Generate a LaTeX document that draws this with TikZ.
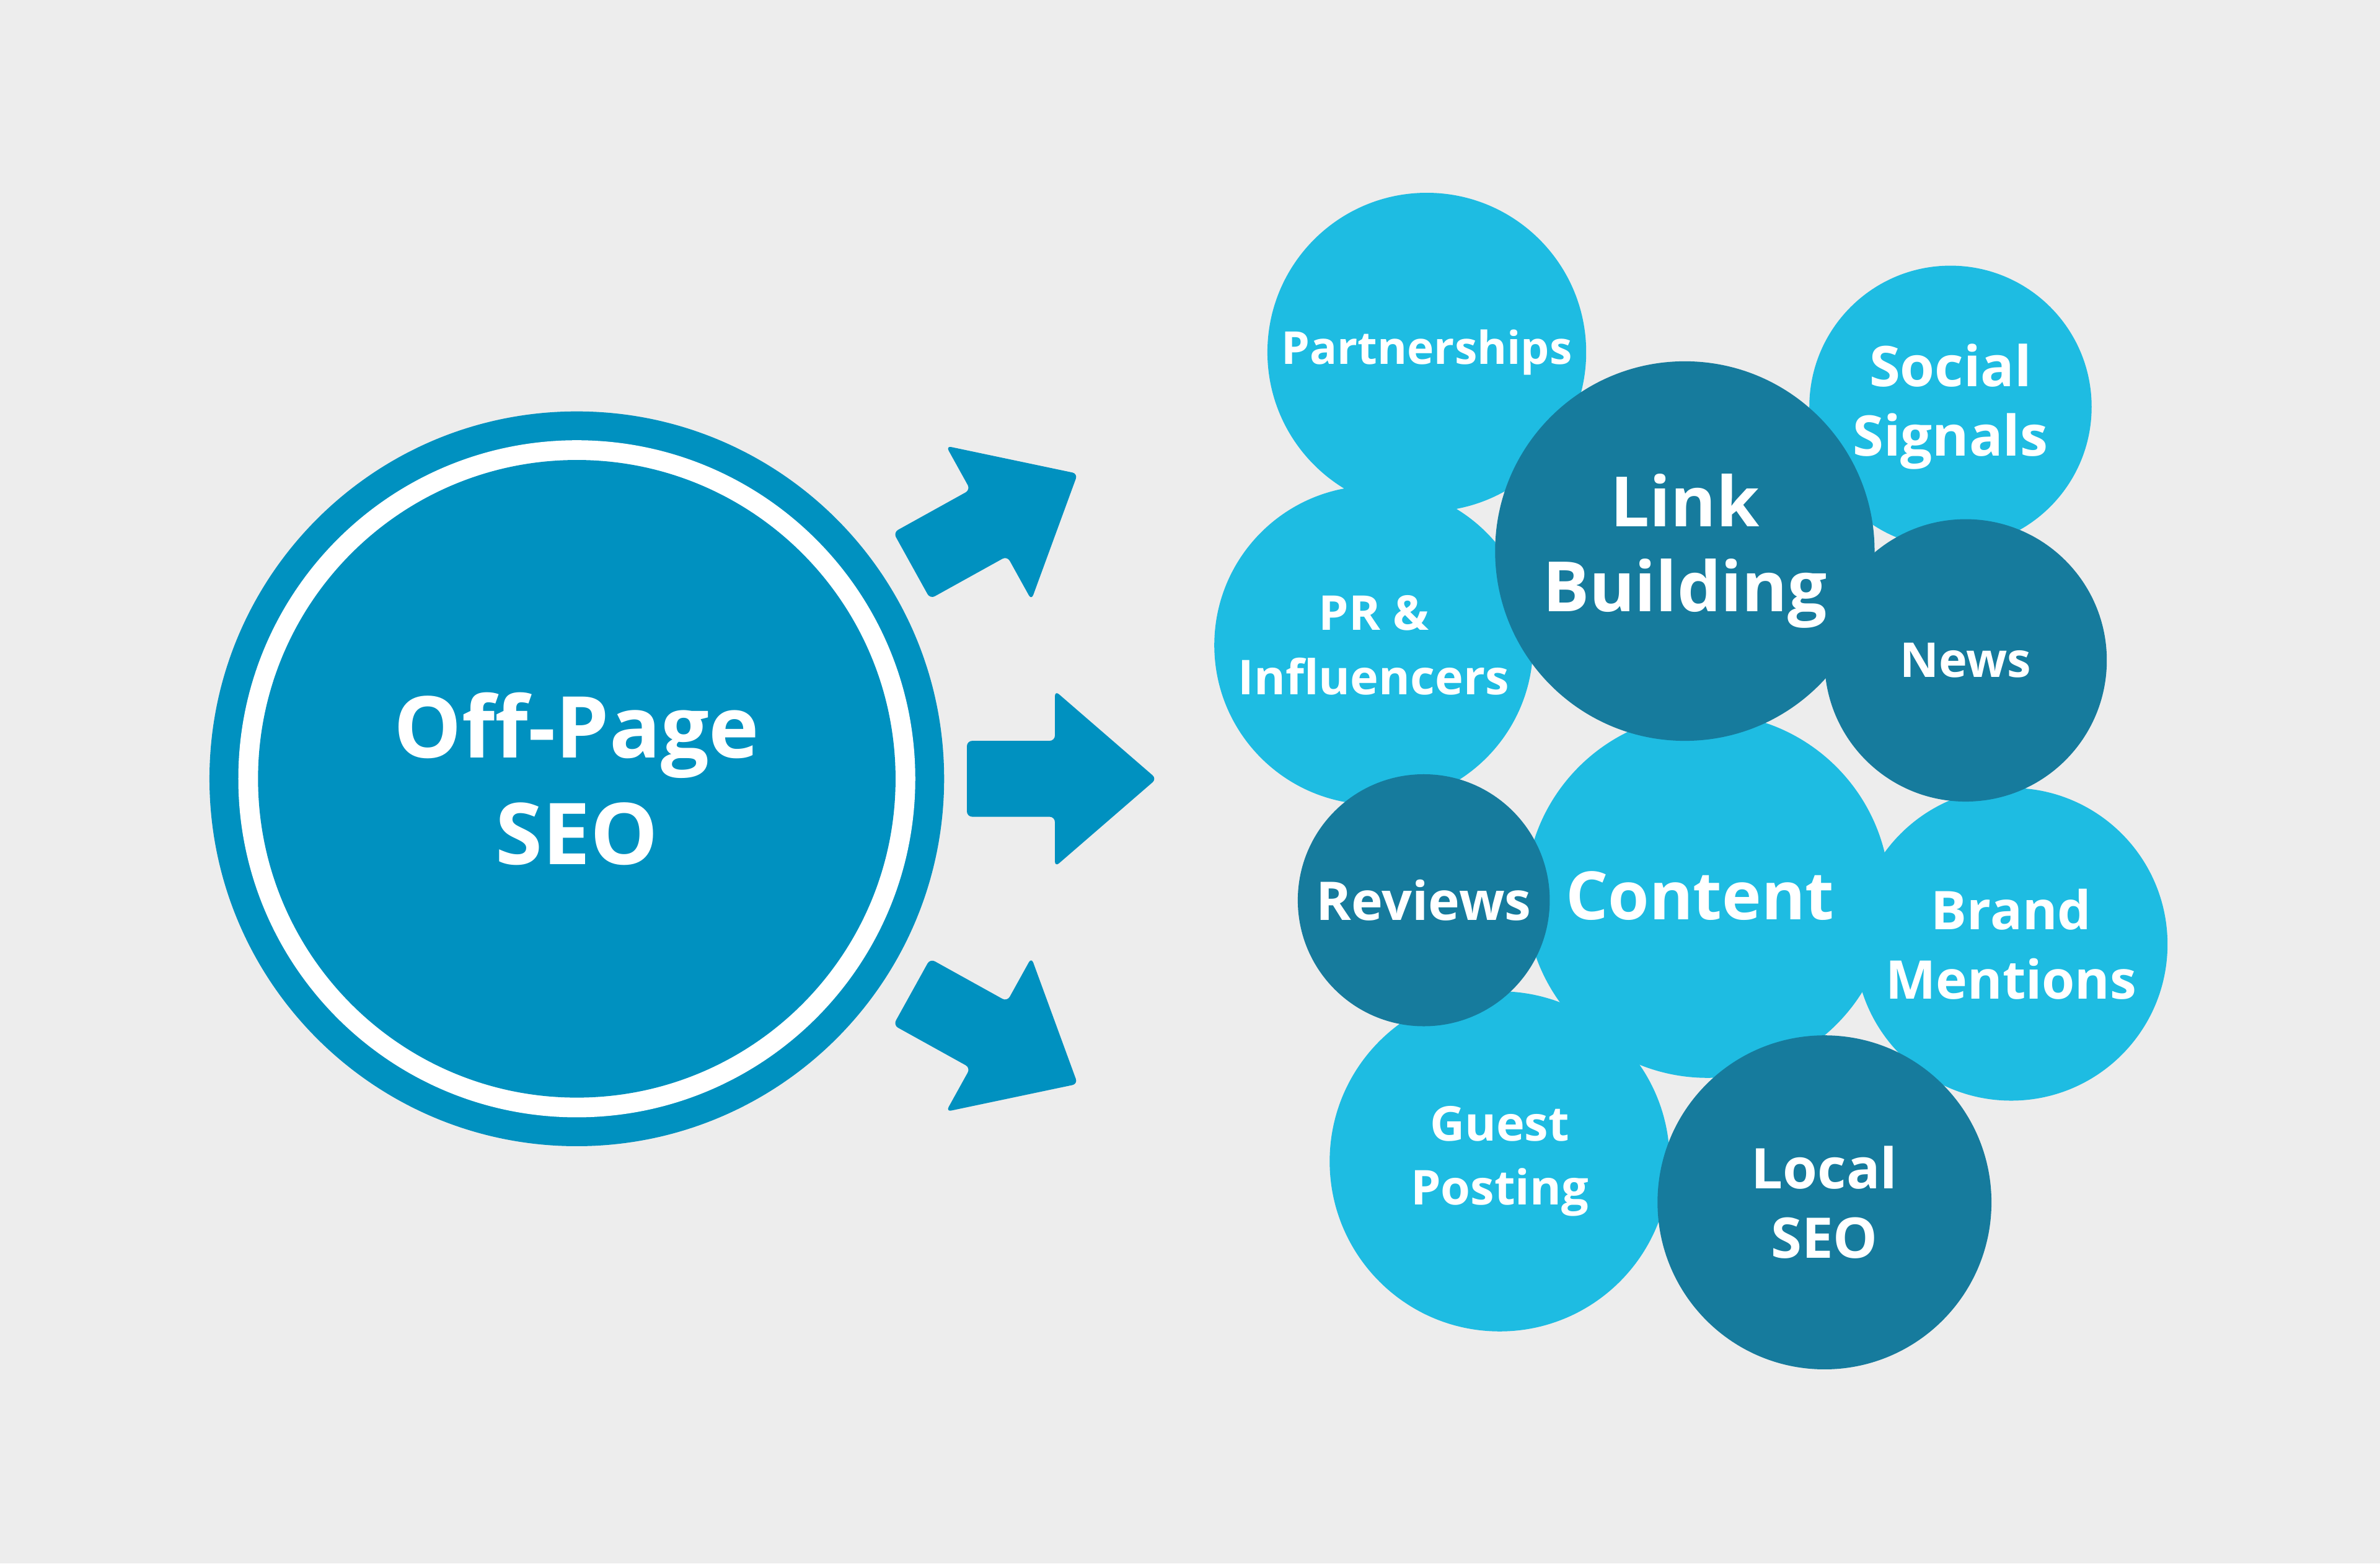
\documentclass[tikz,border=0pt]{standalone}
\usepackage{fontspec}
\setmainfont{Open Sans}
\definecolor{bgGray}{HTML}{EDEDED}
\definecolor{mainBlue}{HTML}{0091C0}
\definecolor{lightBlue}{HTML}{1EBCE2}
\definecolor{darkBlue}{HTML}{167B9D}
\tikzset{
  bubble/.style={circle, inner sep=0pt, align=center, text=white, font=\bfseries},
  light/.style={bubble, fill=lightBlue},
  dark/.style={bubble, fill=darkBlue},
}
\newcommand{\blockarrow}{%
  (-1.25,0.25) -- (-0.67,0.25) -- (-0.67,0.58) -- (0,0) -- (-0.67,-0.58)
  -- (-0.67,-0.25) -- (-1.25,-0.25) -- cycle}
\begin{document}
\begin{tikzpicture}

    \fill[bgGray] (0,0) rectangle (15.68,10.30);
    \useasboundingbox (0,0) rectangle (15.68,10.30);

    % main ring
    \fill[mainBlue] (3.80,5.17) circle (2.42);
    \fill[white] (3.80,5.17) circle (2.23);
    \node[bubble, fill=mainBlue, minimum size=4.20cm,
      font=\bfseries\fontsize{16}{20}\selectfont] (seo) at (3.80,5.17) {Off-Page\\SEO};

    % arrows
    \fill[mainBlue, rounded corners=1pt] [shift={(7.10,7.18)}, rotate=29] \blockarrow;
    \fill[mainBlue, rounded corners=1pt] [shift={(7.62,5.17)}] \blockarrow;
    \fill[mainBlue, rounded corners=1pt] [shift={(7.10,3.16)}, rotate=-29] \blockarrow;

    % light bubbles
    \node[light, minimum size=2.10cm, font=\bfseries\fontsize{8.5}{10}\selectfont]
      (partner) at (9.40,7.98) {Partnerships};
    \node[light, minimum size=1.86cm, font=\bfseries\fontsize{10.5}{13}\selectfont]
      (social) at (12.85,7.62) {Social\\Signals};
    \node[light, minimum size=2.10cm, font=\bfseries\fontsize{9}{12}\selectfont]
      (pr) at (9.05,6.05) {PR \&\\Influencers};
    \node[light, minimum size=2.40cm, font=\bfseries\fontsize{12.5}{15}\selectfont]
      (content) at (11.25,4.40) {\hspace*{-0.1cm}Content};
    \node[light, minimum size=2.06cm, font=\bfseries\fontsize{10}{13}\selectfont]
      (brand) at (13.25,4.08) {Brand\\Mentions};
    \node[light, minimum size=2.24cm, font=\bfseries\fontsize{9}{12}\selectfont]
      (guest) at (9.88,2.65) {Guest\\Posting};

    % dark bubbles
    \node[dark, minimum size=2.50cm, font=\bfseries\fontsize{13}{16}\selectfont]
      (link) at (11.10,6.67) {Link\\Building};
    \node[dark, minimum size=1.86cm, font=\bfseries\fontsize{9}{12}\selectfont]
      (news) at (12.95,5.95) {News};
    \node[dark, minimum size=1.66cm, font=\bfseries\fontsize{10}{12}\selectfont]
      (reviews) at (9.38,4.37) {Reviews};
    \node[dark, minimum size=2.20cm, font=\bfseries\fontsize{10.5}{13}\selectfont]
      (local) at (12.02,2.38) {Local\\SEO};

\end{tikzpicture}
\end{document}
